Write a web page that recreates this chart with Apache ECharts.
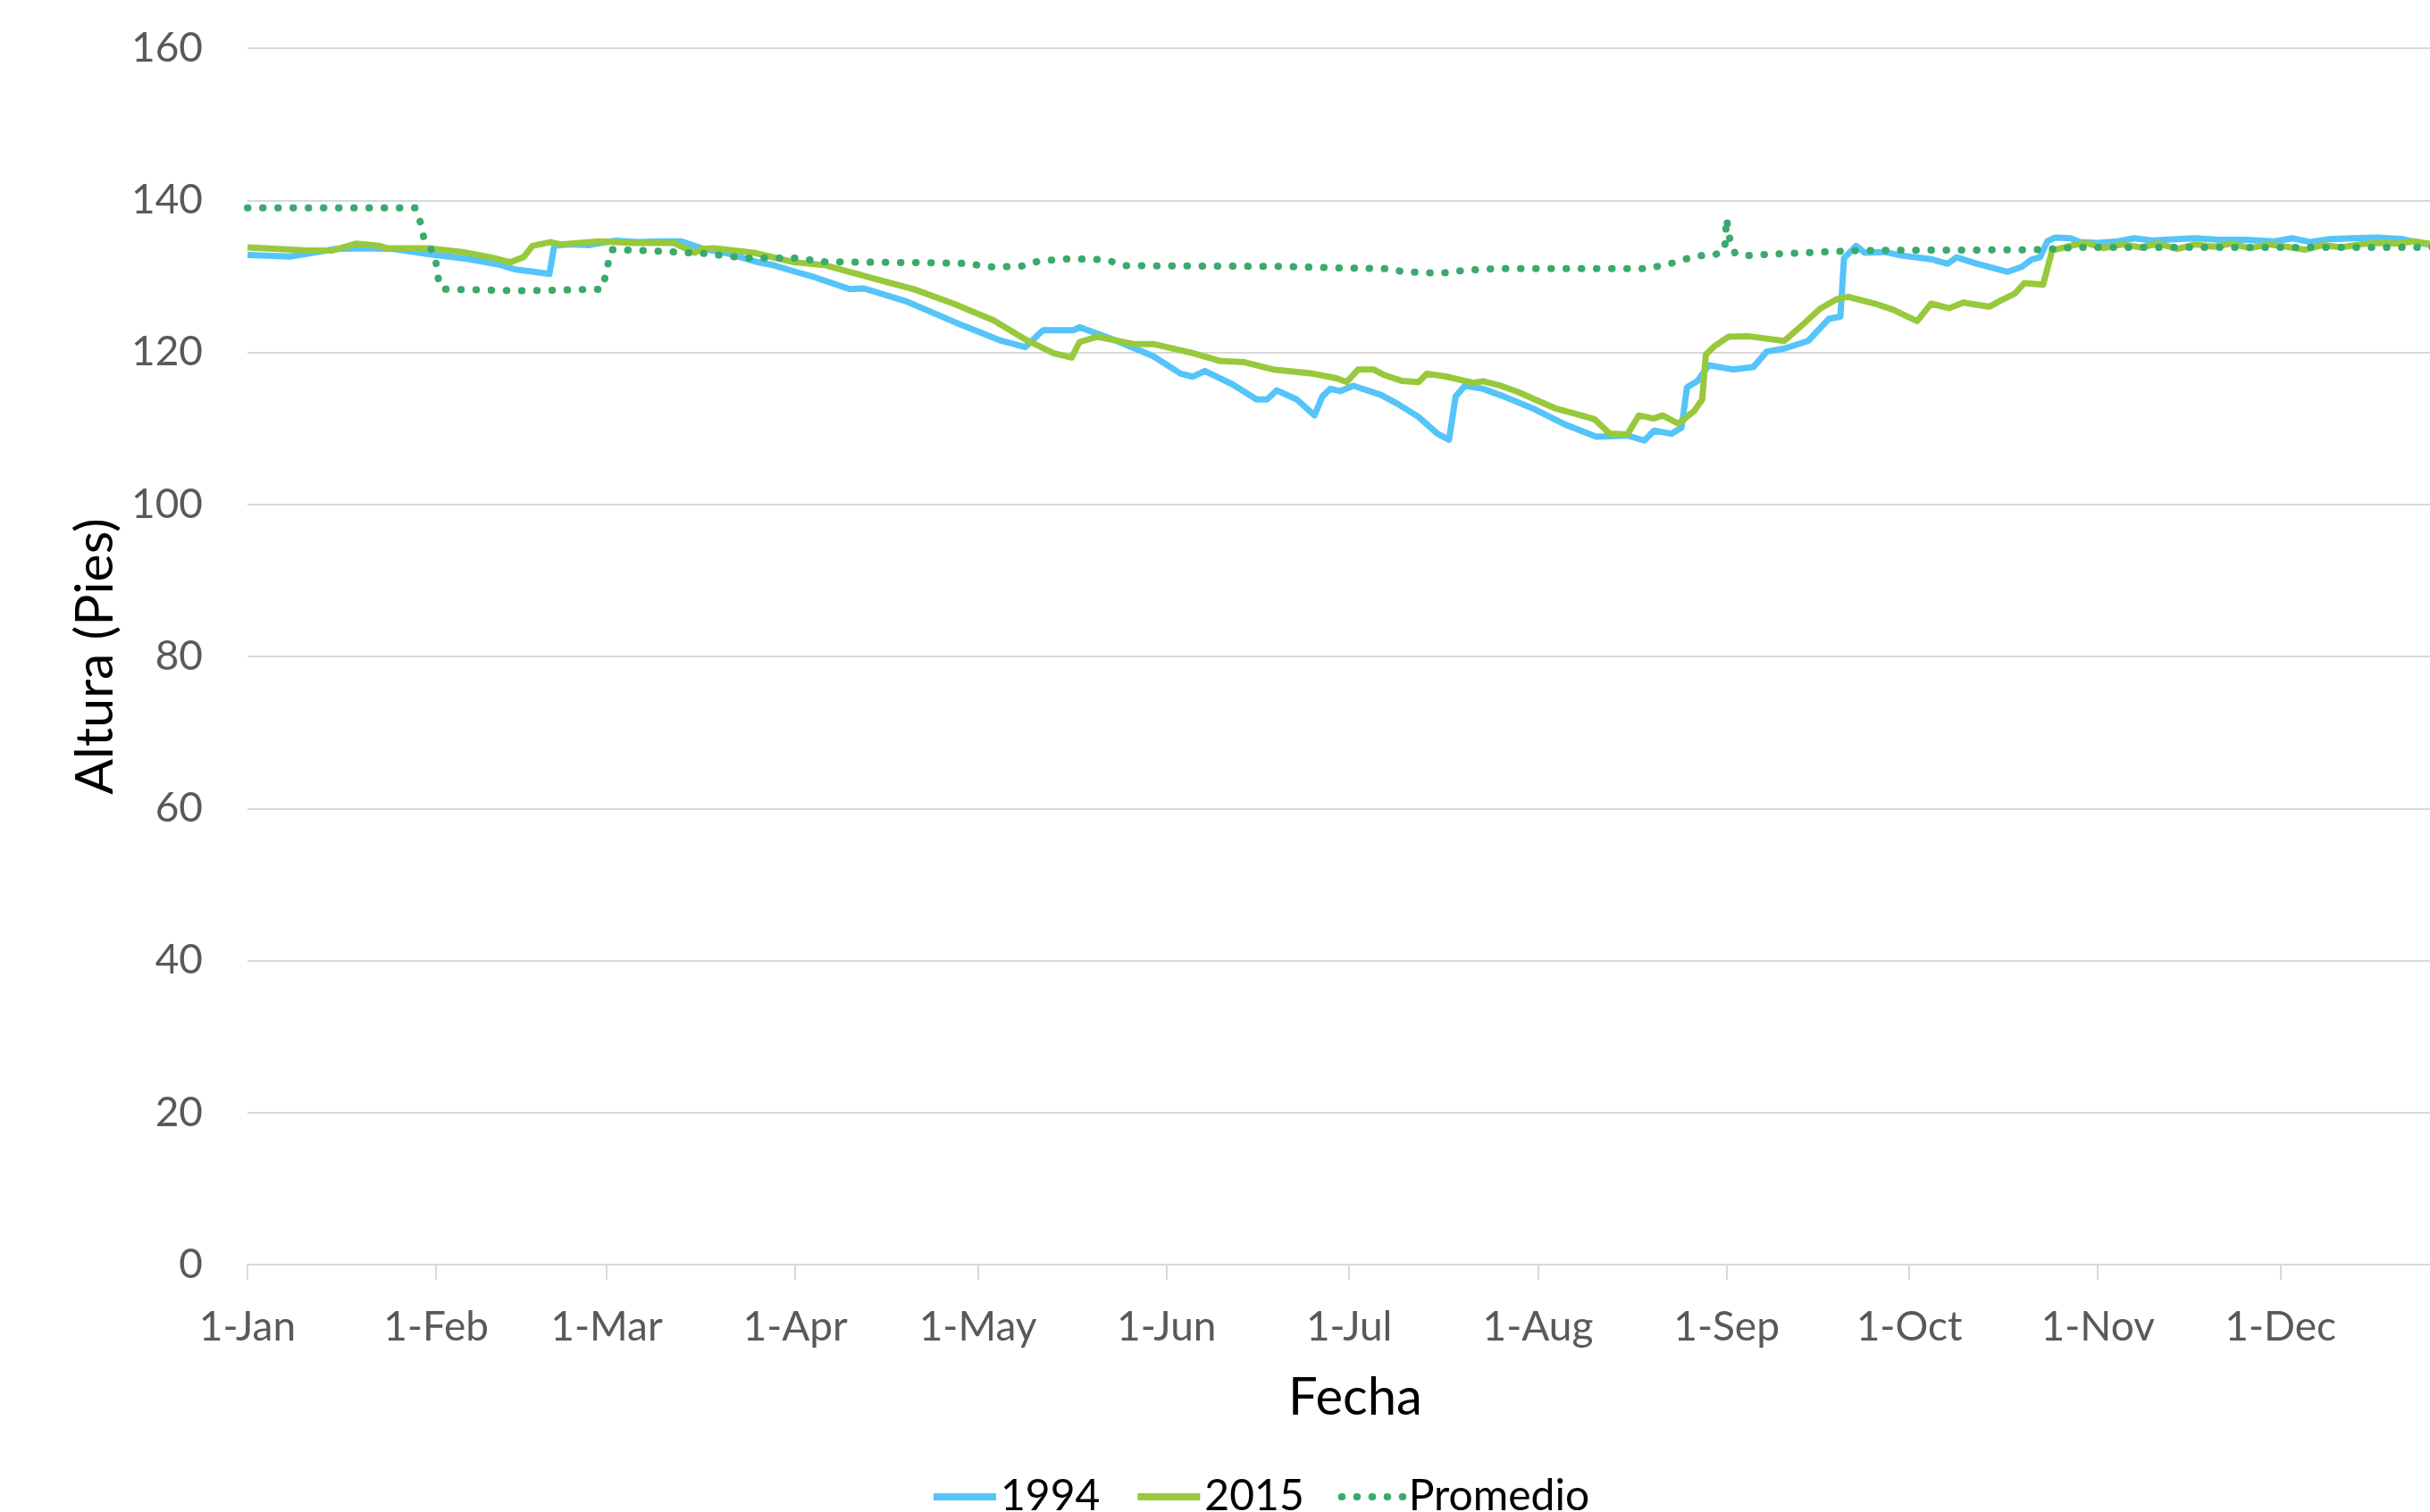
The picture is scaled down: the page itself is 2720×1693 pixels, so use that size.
<!DOCTYPE html>
<html>
<head>
<meta charset="utf-8">
<script src="https://cdn.jsdelivr.net/npm/echarts@6/dist/echarts.min.js"></script>
<style>
  html, body { margin: 0; padding: 0; background: #fff; }
  #chart { width: 2720px; height: 1693px; }
</style>
</head>
<body>
<div id="chart"></div>
<script>
// month starts (day of year) and their labels
const monthDays = [0, 31, 59, 90, 120, 151, 181, 212, 243, 273, 304, 334]
const monthLabels = ['1-Jan', '1-Feb', '1-Mar', '1-Apr', '1-May', '1-Jun', '1-Jul', '1-Aug', '1-Sep', '1-Oct', '1-Nov', '1-Dec']
const yTicks = [0, 20, 40, 60, 80, 100, 120, 140, 160]

// 1994
const days1994 = [0, 7, 14.5, 19, 24, 30, 36, 41, 44, 47, 49.6, 50.4, 53, 56, 60.5, 64, 68, 71.3, 75, 79, 83.6, 86.5, 90, 93.1, 99, 101.3, 108.1, 117.3, 123.9, 127.8, 130.7, 135.7, 136.7, 142.2, 148.8, 153.3, 155.3, 157.3, 161.8, 165.8, 167.5, 169.1, 172.4, 175.3, 176.6, 177.9, 179.5, 181.7, 186.2, 189, 192.4, 195.5, 197.4, 198.5, 200, 203, 206.4, 211.5, 216.5, 221.6, 226.7, 229.5, 231.1, 234, 235.6, 236.5, 238.2, 240.1, 244, 247.4, 249.6, 252.5, 256.4, 259.8, 261.7, 262.3, 264.3, 265.7, 268.9, 272, 276.6, 279.3, 280.8, 284.2, 289.2, 291.5, 293.1, 294.5, 295.7, 297, 299.5, 301, 304, 307.3, 310, 313, 317, 320, 324, 328, 333, 336, 339, 342, 346, 350, 354, 358, 362]
const alt1994 = [132.8, 132.6, 133.6, 133.7, 133.6, 132.9, 132.3, 131.6, 130.9, 130.6, 130.3, 134.0, 134.2, 134.1, 134.7, 134.5, 134.6, 134.6, 133.6, 133.0, 131.9, 131.45, 130.6, 129.9, 128.3, 128.4, 126.75, 123.6, 121.5, 120.7, 122.9, 122.9, 123.3, 121.7, 119.5, 117.2, 116.8, 117.55, 115.8, 113.8, 113.8, 115.0, 113.8, 111.7, 114.2, 115.2, 114.9, 115.6, 114.4, 113.2, 111.5, 109.3, 108.5, 114.2, 115.6, 115.2, 114.2, 112.5, 110.5, 108.9, 109.05, 108.4, 109.7, 109.3, 110.1, 115.4, 116.2, 118.3, 117.75, 118.05, 120.1, 120.5, 121.5, 124.4, 124.7, 132.4, 134.0, 133.1, 133.2, 132.7, 132.25, 131.65, 132.5, 131.65, 130.6, 131.25, 132.2, 132.5, 134.6, 135.1, 135.0, 134.5, 134.4, 134.6, 135.0, 134.7, 134.9, 135.0, 134.8, 134.8, 134.6, 135.0, 134.5, 134.9, 135.0, 135.1, 134.9, 134.2, 134.2]

// 2015
const days2015 = [0, 5, 10, 14, 17.8, 21.7, 22.9, 29.7, 35.3, 40, 43.2, 45.4, 46.8, 49.8, 51.5, 57.8, 63.4, 70, 73.5, 74.6, 76.7, 83.2, 89.8, 95, 102.9, 109.5, 116, 122.6, 127.8, 132.4, 135.4, 136.7, 139.6, 145.5, 148.8, 155.3, 159.9, 163.8, 168.5, 175, 178.9, 180.6, 182.5, 185, 186.8, 189.6, 192.4, 193.8, 197, 201.4, 203, 205.9, 208.7, 211.5, 214.8, 218.2, 221.3, 223.8, 226.7, 228.6, 231, 232.5, 235.1, 237.7, 239, 239.6, 241, 243.3, 246.7, 252.5, 255.6, 258.3, 261.1, 263, 267.4, 270.4, 274.3, 276.6, 279.6, 281.9, 286.2, 288, 290.4, 291.9, 295, 296.5, 299.5, 302, 305, 308, 311, 314, 317, 320, 323, 326, 329, 332, 335, 338, 341, 344, 347, 350, 353, 356, 359, 362]
const alt2015 = [133.8, 133.6, 133.4, 133.4, 134.3, 134.0, 133.7, 133.7, 133.2, 132.5, 131.85, 132.55, 134.0, 134.5, 134.2, 134.6, 134.4, 134.4, 133.1, 133.6, 133.7, 133.1, 131.85, 131.45, 129.7, 128.3, 126.4, 124.2, 121.7, 119.9, 119.3, 121.35, 122.05, 121.1, 121.1, 119.9, 118.85, 118.7, 117.75, 117.2, 116.6, 116.1, 117.75, 117.75, 117.0, 116.25, 116.1, 117.2, 116.8, 116.0, 116.2, 115.6, 114.8, 113.8, 112.65, 111.9, 111.2, 109.3, 109.2, 111.7, 111.3, 111.7, 110.6, 112.3, 113.8, 119.7, 120.8, 122.05, 122.1, 121.5, 123.7, 125.7, 127.0, 127.3, 126.4, 125.6, 124.1, 126.4, 125.8, 126.55, 126.0, 126.8, 127.75, 129.1, 128.9, 133.4, 134.0, 134.4, 133.7, 134.2, 133.8, 134.3, 133.6, 134.2, 133.9, 134.3, 133.7, 134.2, 133.9, 133.5, 134.1, 133.8, 134.2, 134.4, 134.3, 134.6, 134.2, 134.2]

// Promedio
const daysProm = [0, 27.6, 28.5, 29, 30, 30.8, 31.2, 31.5, 32.5, 45, 58.2, 58.8, 59.3, 59.9, 65, 75, 82, 90, 95, 110, 118, 122, 127, 130, 135, 141, 144, 170, 180, 187, 190, 196, 200, 205, 230, 233.7, 235.9, 238.4, 241, 242.7, 243, 243.5, 244.4, 246, 250, 265, 295, 300, 362]
const altProm = [139.0, 139.0, 136.9, 134.9, 133.8, 132.6, 130.7, 128.7, 128.3, 128.1, 128.3, 130.0, 131.85, 133.5, 133.4, 133.0, 132.4, 132.4, 131.9, 131.8, 131.7, 131.25, 131.3, 132.0, 132.3, 132.2, 131.4, 131.3, 131.1, 131.0, 130.6, 130.4, 130.8, 131.0, 131.0, 131.65, 132.2, 132.7, 132.8, 133.5, 137.6, 135.0, 133.0, 132.7, 132.9, 133.4, 133.5, 133.8, 133.8]

const zip = (xs, ys) => xs.map((x, i) => [x, ys[i]])

const font = 'Lato, "Liberation Sans", sans-serif'

const option = {
  animation: false,
  backgroundColor: '#fff',
  textStyle: { fontFamily: font },
  grid: {
    left: 277,
    top: 54,
    right: -37,
    bottom: 277,
    containLabel: false,
    outerBoundsMode: 'none'
  },
  legend: {
    data: ['1994', '2015', 'Promedio'],
    left: 1036,
    top: 1647,
    itemWidth: 70,
    itemHeight: 14,
    itemGap: 38,
    itemStyle: { opacity: 0 },
    lineStyle: { width: 8 },
    textStyle: { fontSize: 48, color: '#000', fontFamily: font }
  },
  xAxis: {
    type: 'value',
    min: 0,
    max: 364,
    name: 'Fecha',
    nameLocation: 'middle',
    nameGap: 120,
    nameTextStyle: { fontSize: 58, color: '#000', fontFamily: font },
    axisLine: { show: true, onZero: false, lineStyle: { color: '#d9d9d9', width: 2 } },
    axisTick: {
      show: true,
      customValues: monthDays,
      length: 17,
      lineStyle: { color: '#d9d9d9', width: 2 }
    },
    axisLabel: {
      customValues: monthDays,
      margin: 47,
      fontSize: 46,
      color: '#595959',
      fontFamily: font,
      formatter: (v) => monthLabels[monthDays.indexOf(v)] || ''
    },
    splitLine: { show: false }
  },
  yAxis: {
    type: 'value',
    min: 0,
    max: 160,
    interval: 20,
    name: 'Altura (Pies)',
    nameLocation: 'middle',
    nameGap: 138,
    nameTextStyle: { fontSize: 59, color: '#000', fontFamily: font },
    axisLine: { show: false },
    axisTick: { show: false },
    axisLabel: {
      margin: 50,
      fontSize: 46,
      color: '#595959',
      fontFamily: font,
      formatter: (v) => (yTicks.includes(v) ? String(v) : '')
    },
    splitLine: { lineStyle: { color: '#d9d9d9', width: 2 } }
  },
  series: [
    {
      name: '1994',
      type: 'line',
      symbol: 'none',
      showSymbol: false,
      lineStyle: { color: '#55c4f8', width: 7, join: 'round' },
      itemStyle: { color: '#55c4f8' },
      data: zip(days1994, alt1994)
    },
    {
      name: '2015',
      type: 'line',
      symbol: 'none',
      showSymbol: false,
      lineStyle: { color: '#98c93c', width: 7, join: 'round' },
      itemStyle: { color: '#98c93c' },
      data: zip(days2015, alt2015)
    },
    {
      name: 'Promedio',
      type: 'line',
      symbol: 'none',
      showSymbol: false,
      lineStyle: { color: '#3aaa6d', width: 8, type: [0.5, 16.5], cap: 'round' },
      itemStyle: { color: '#3aaa6d' },
      data: zip(daysProm, altProm)
    }
  ]
}

const chart = echarts.init(document.getElementById('chart'))
chart.setOption(option)
window.addEventListener('resize', () => chart.resize())
</script>
</body>
</html>
